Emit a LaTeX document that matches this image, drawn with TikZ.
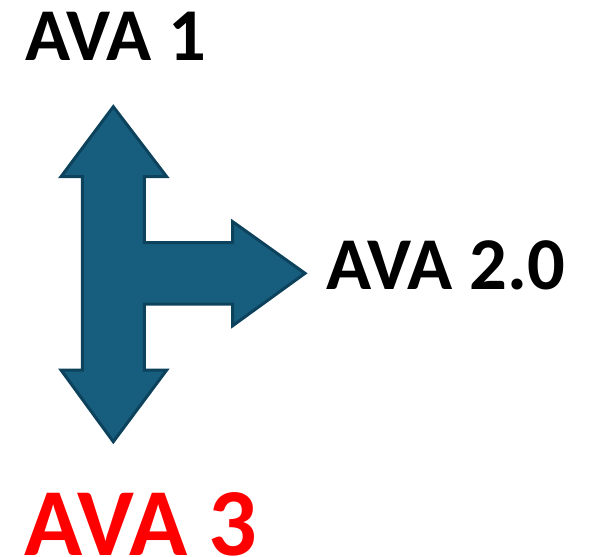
\documentclass[tikz,border=0pt]{standalone}
\usepackage{fontspec}
\setmainfont{Carlito}
\definecolor{arrowblue}{RGB}{23,94,126}
\definecolor{arrowedge}{RGB}{13,66,92}
\definecolor{avared}{RGB}{255,0,0}
\newcommand*{\labelstyle}{\fontsize{74.5}{80}\selectfont\bfseries}
\newcommand*{\biglabelstyle}{\fontsize{96}{100}\selectfont\bfseries}

\begin{document}
\begin{tikzpicture}[x=1pt,y=-1pt]
    \useasboundingbox (0,0) rectangle (590,557);

    % three-way arrow
    \fill[arrowblue, draw=arrowedge, line width=3pt, line join=miter]
        (113.3,106.7) -- (166.7,176.7) -- (144.3,176.7) -- (144.3,242.7)
        -- (232.7,242.7) -- (232.7,221.7) -- (305,273.3) -- (232.7,325.7)
        -- (232.7,304) -- (144.3,304) -- (144.3,370) -- (166.7,370)
        -- (113.3,441.7) -- (61,370) -- (82.3,370) -- (82.3,176.7)
        -- (61,176.7) -- cycle;

    % labels
    \node[font=\labelstyle, anchor=base west, inner sep=0pt] (ava1)
        at (25,60.5) {AVA 1};
    \node[font=\labelstyle, anchor=base west, inner sep=0pt] (ava2)
        at (326,289) {AVA 2.0};
    \node[font=\biglabelstyle, anchor=base west, inner sep=0pt,
        text=avared] (ava3) at (24,555) {AVA 3};
\end{tikzpicture}
\end{document}
